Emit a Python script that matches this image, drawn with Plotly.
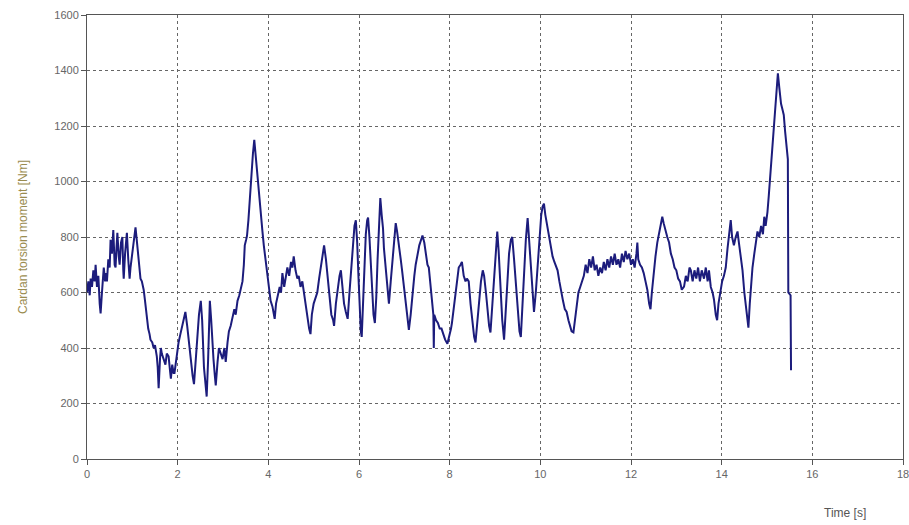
import plotly.graph_objects as go

time_s = [
    0.00, 0.03, 0.06, 0.08, 0.11, 0.14, 0.17, 0.19, 0.22, 0.25, 0.28, 0.30, 0.33, 0.35, 0.37, 0.40,
    0.42, 0.44, 0.47, 0.50, 0.52, 0.55, 0.58, 0.61, 0.63, 0.65, 0.67, 0.70, 0.72, 0.75, 0.78, 0.80,
    0.81, 0.84, 0.86, 0.88, 0.91, 0.94, 0.96, 0.99, 1.02, 1.05, 1.07, 1.10, 1.13, 1.15, 1.18, 1.21,
    1.25, 1.28, 1.32, 1.35, 1.38, 1.40, 1.44, 1.47, 1.50, 1.54, 1.56, 1.58, 1.61, 1.63, 1.65, 1.69,
    1.73, 1.76, 1.80, 1.83, 1.85, 1.88, 1.91, 1.93, 1.97, 2.00, 2.02, 2.06, 2.10, 2.14, 2.17, 2.21,
    2.25, 2.29, 2.33, 2.36, 2.40, 2.43, 2.47, 2.51, 2.54, 2.58, 2.61, 2.64, 2.67, 2.71, 2.74, 2.77,
    2.79, 2.82, 2.84, 2.88, 2.91, 2.95, 2.99, 3.03, 3.06, 3.10, 3.13, 3.17, 3.21, 3.25, 3.28, 3.32,
    3.36, 3.40, 3.43, 3.46, 3.48, 3.51, 3.53, 3.56, 3.58, 3.61, 3.63, 3.66, 3.69, 3.71, 3.73, 3.76,
    3.78, 3.81, 3.84, 3.87, 3.90, 3.93, 3.95, 3.99, 4.02, 4.05, 4.09, 4.12, 4.14, 4.17, 4.21, 4.25,
    4.28, 4.31, 4.35, 4.38, 4.42, 4.46, 4.50, 4.53, 4.56, 4.60, 4.64, 4.67, 4.71, 4.75, 4.79, 4.83,
    4.86, 4.90, 4.93, 4.96, 5.00, 5.04, 5.08, 5.12, 5.16, 5.20, 5.23, 5.27, 5.31, 5.35, 5.39, 5.43,
    5.45, 5.49, 5.53, 5.57, 5.60, 5.63, 5.67, 5.71, 5.75, 5.79, 5.83, 5.87, 5.90, 5.93, 5.96, 5.99,
    6.02, 6.04, 6.06, 6.09, 6.12, 6.15, 6.18, 6.20, 6.23, 6.26, 6.29, 6.32, 6.35, 6.38, 6.41, 6.44,
    6.47, 6.50, 6.53, 6.55, 6.58, 6.61, 6.64, 6.66, 6.70, 6.74, 6.78, 6.81, 6.84, 6.88, 6.92, 6.95,
    6.99, 7.03, 7.07, 7.10, 7.14, 7.18, 7.22, 7.25, 7.29, 7.33, 7.37, 7.40, 7.44, 7.48, 7.51, 7.54,
    7.58, 7.62, 7.64, 7.65, 7.66, 7.70, 7.74, 7.78, 7.82, 7.86, 7.90, 7.95, 7.99, 8.03, 8.05, 8.10,
    8.15, 8.20, 8.24, 8.27, 8.31, 8.35, 8.38, 8.42, 8.46, 8.50, 8.54, 8.57, 8.61, 8.65, 8.69, 8.73,
    8.76, 8.80, 8.84, 8.87, 8.90, 8.94, 8.98, 9.02, 9.05, 9.08, 9.12, 9.16, 9.20, 9.23, 9.27, 9.31,
    9.35, 9.38, 9.42, 9.46, 9.50, 9.54, 9.57, 9.60, 9.64, 9.68, 9.72, 9.75, 9.79, 9.83, 9.86, 9.90,
    9.94, 9.98, 10.02, 10.05, 10.08, 10.11, 10.15, 10.19, 10.23, 10.27, 10.31, 10.35, 10.38, 10.42, 10.46, 10.50,
    10.54, 10.58, 10.62, 10.66, 10.69, 10.73, 10.76, 10.80, 10.84, 10.88, 10.92, 10.96, 11.00, 11.04, 11.08, 11.12,
    11.16, 11.20, 11.24, 11.28, 11.32, 11.36, 11.40, 11.44, 11.48, 11.52, 11.56, 11.60, 11.64, 11.68, 11.72, 11.76,
    11.80, 11.84, 11.88, 11.92, 11.96, 12.00, 12.04, 12.08, 12.12, 12.14, 12.16, 12.20, 12.24, 12.28, 12.32, 12.36,
    12.40, 12.43, 12.46, 12.50, 12.54, 12.58, 12.62, 12.66, 12.69, 12.72, 12.76, 12.80, 12.84, 12.88, 12.92, 12.96,
    13.00, 13.04, 13.08, 13.12, 13.17, 13.21, 13.25, 13.29, 13.32, 13.36, 13.40, 13.44, 13.48, 13.52, 13.56, 13.61,
    13.65, 13.69, 13.72, 13.76, 13.80, 13.83, 13.87, 13.90, 13.93, 13.97, 14.01, 14.05, 14.09, 14.13, 14.17, 14.20,
    14.23, 14.27, 14.31, 14.35, 14.38, 14.42, 14.46, 14.50, 14.54, 14.57, 14.59, 14.62, 14.65, 14.68, 14.72, 14.76,
    14.79, 14.83, 14.87, 14.91, 14.94, 14.97, 15.01, 15.04, 15.07, 15.10, 15.12, 15.15, 15.18, 15.20, 15.22, 15.24,
    15.27, 15.29, 15.31, 15.34, 15.37, 15.40, 15.42, 15.44, 15.46, 15.47, 15.52, 15.53,
]

moment_nm = [
    600, 640, 590, 650, 620, 680, 640, 700, 620, 660, 560, 525, 600, 640, 690, 640,
    670, 640, 720, 690, 790, 740, 825, 700, 690, 760, 815, 730, 700, 780, 800, 680,
    650, 740, 770, 815, 720, 650, 690, 730, 760, 800, 835, 785, 740, 690, 650, 640,
    610, 570, 500, 470, 450, 430, 420, 400, 410, 370, 330, 255, 360, 400, 380, 360,
    340, 380, 370, 320, 290, 340, 310, 310, 360, 410, 420, 450, 480, 510, 530, 480,
    410, 360, 300, 270, 360, 440, 520, 570, 500, 330, 260, 225, 350, 570, 500, 400,
    360, 300, 265, 350, 400, 380, 360, 400, 350, 420, 460, 480, 505, 540, 520, 570,
    590, 620, 640, 700, 770, 790, 805, 860, 910, 980, 1045, 1100, 1150, 1110, 1070, 1020,
    985, 930, 865, 820, 770, 730, 700, 650, 600, 570, 550, 520, 505, 560, 590, 620,
    600, 670, 620, 650, 690, 660, 710, 690, 730, 680, 650, 660, 620, 640, 590, 560,
    520, 470, 450, 520, 560, 580, 600, 650, 700, 740, 770, 720, 650, 580, 520, 500,
    480, 560, 620, 660, 680, 620, 560, 530, 505, 600, 700, 780, 840, 860, 780, 650,
    520, 460, 440, 560, 700, 810, 860, 870, 800, 700, 600, 520, 490, 580, 720, 850,
    940, 880, 830, 760, 700, 640, 590, 560, 640, 730, 800, 850, 820, 760, 720, 680,
    620, 560, 500, 465, 520, 600, 660, 700, 740, 770, 790, 805, 780, 740, 700, 690,
    620, 560, 520, 400, 520, 500, 490, 470, 470, 450, 430, 415, 440, 470, 490, 560,
    640, 690, 700, 710, 660, 640, 650, 640, 560, 490, 440, 420, 500, 580, 640, 680,
    660, 600, 530, 480, 456, 560, 680, 780, 820, 750, 620, 500, 430, 520, 650, 740,
    790, 800, 720, 620, 530, 460, 440, 540, 680, 790, 868, 800, 700, 600, 530, 600,
    700, 820, 880, 910, 920, 880, 840, 800, 770, 730, 710, 690, 680, 640, 600, 570,
    540, 530, 500, 480, 460, 456, 500, 560, 600, 620, 640, 660, 700, 670, 720, 690,
    730, 680, 700, 660, 690, 670, 710, 680, 720, 690, 730, 700, 740, 700, 720, 690,
    740, 710, 750, 720, 740, 700, 720, 690, 740, 780, 720, 700, 690, 670, 640, 610,
    560, 540, 600, 680, 730, 780, 820, 850, 873, 850, 820, 800, 780, 740, 720, 690,
    680, 650, 640, 610, 621, 660, 640, 690, 680, 640, 680, 650, 690, 640, 680, 650,
    690, 640, 680, 620, 600, 575, 520, 500, 560, 600, 640, 660, 690, 760, 820, 861,
    800, 770, 800, 820, 780, 730, 680, 600, 540, 500, 473, 560, 640, 690, 740, 780,
    820, 800, 840, 810, 873, 840, 890, 950, 1020, 1080, 1140, 1200, 1260, 1306, 1350, 1390,
    1340, 1300, 1280, 1260, 1240, 1180, 1140, 1100, 1080, 600, 590, 320,
]

x_ticks = [0, 2, 4, 6, 8, 10, 12, 14, 16, 18]
y_ticks = [0, 200, 400, 600, 800, 1000, 1200, 1400, 1600]

fig = go.Figure()
fig.add_trace(go.Scatter(
    x=time_s, y=moment_nm, mode="lines",
    line=dict(color="#1c1c7c", width=2),
    showlegend=False, hoverinfo="skip",
))

axis_common = dict(
    showline=True, linecolor="#555555", linewidth=1, mirror=True,
    showgrid=True, gridcolor="#666666", gridwidth=1, griddash="3px,3px",
    ticks="outside", ticklen=5, tickcolor="#555555",
    tickfont=dict(family="Liberation Sans, Arial, sans-serif", size=11, color="#666666"),
    zeroline=False, automargin=False, ticklabeloverflow="allow",
)

fig.update_xaxes(range=[0, 18], tickvals=x_ticks, ticktext=[str(v) for v in x_ticks], **axis_common)
fig.update_yaxes(range=[0, 1600], tickvals=y_ticks, ticktext=[str(v) for v in y_ticks],
                 title=dict(text="Cardan torsion moment [Nm]", standoff=24,
                            font=dict(family="Liberation Sans, Arial, sans-serif", size=12, color="#9a8c50")),
                 **axis_common)

fig.add_annotation(
    text="Time [s]", xref="paper", yref="paper", x=0.929, y=-0.1216,
    xanchor="center", yanchor="middle", showarrow=False,
    font=dict(family="Liberation Sans, Arial, sans-serif", size=12, color="#555555"),
)

fig.update_layout(
    width=909, height=525,
    margin=dict(l=87, r=6, t=15, b=66),
    paper_bgcolor="white", plot_bgcolor="white",
)

# remove the page's default body margin so the figure fills the window exactly
fig.write_html("out.html",
               config={"displayModeBar": False},
               post_script="document.body.style.margin='0';document.body.style.overflow='hidden';")
